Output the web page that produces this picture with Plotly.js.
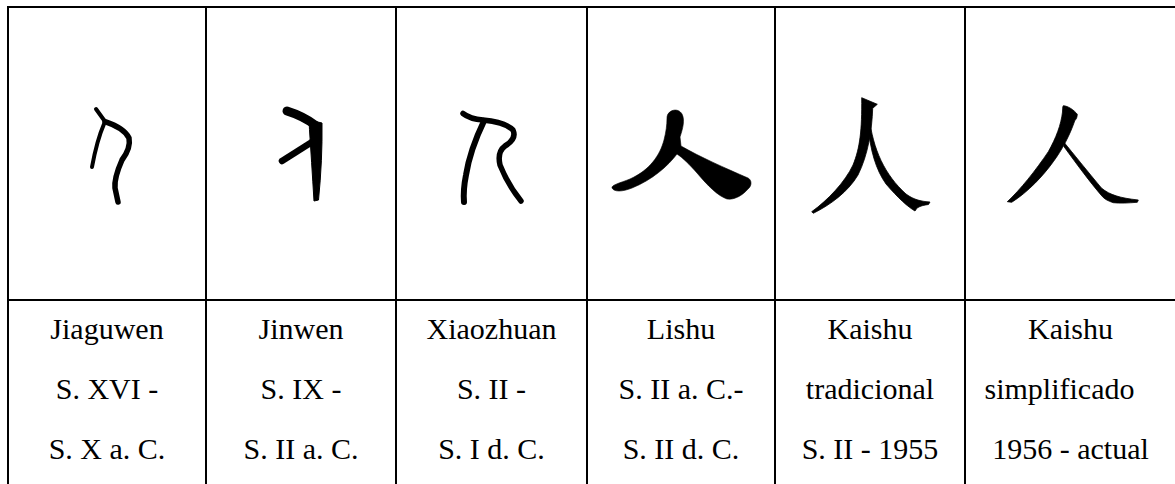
<!DOCTYPE html>
<html>
<head>
<meta charset="utf-8">
<script src="https://cdn.plot.ly/plotly-3.0.1.min.js"></script>
<style>
  html, body { margin: 0; padding: 0; background: #ffffff; }
  #chart { width: 1175px; height: 484px; }
</style>
</head>
<body>
<div id="chart"></div>
<script>
// ---- Data (table content) ----
const scriptNames = ['Jiaguwen', 'Jinwen', 'Xiaozhuan', 'Lishu', 'Kaishu', 'Kaishu'];
const periodLine1 = ['S. XVI -', 'S. IX -', 'S. II -', 'S. II a. C.-', 'tradicional', 'simplificado'];
const periodLine2 = ['S. X a. C.', 'S. II a. C.', 'S. I d. C.', 'S. II d. C.', 'S. II - 1955', '1956 - actual'];

// ---- Layout constants (pixels of the 1175x484 page) ----
const W = 1175, H = 484;
const colEdges = [8, 206, 396, 587, 775, 965, 1176];
const tableTop = 7;
const rowSplit = 300;
const lineY = [331.5, 391.5, 451.5];
// per-column horizontal nudges for individual text lines [line0, line1, line2]
const lineShift = [[0,0,0],[0,0,0],[0,0,0],[0,0,0],[0,0,0],[0,-11,0]];

// ---- Glyph artwork (the character 人 in each script), drawn in page pixel space ----
const glyphArt = [
  // Jiaguwen
  '<g fill="none" stroke="#000" stroke-linecap="round" stroke-linejoin="round">' +
  '<path d="M96,109 L105,121.5" stroke-width="4"/>' +
  '<path d="M105,121.7 Q124,128 129,138 Q131,148 122,160 Q114,178 115,188 L118,202" stroke-width="5.5"/>' +
  '<path d="M104,124 Q97,140 92,167" stroke-width="4"/></g>',
  // Jinwen
  '<g stroke="#000" stroke-linecap="round" stroke-linejoin="round">' +
  '<path fill="none" d="M287,111 Q303,116 315,125" stroke-width="9"/>' +
  '<path fill="#000" stroke-width="1" d="M309.5,120 L322,123 Q322.5,160 318.5,200 L314,201 Q311.5,160 309.5,130 Z"/>' +
  '<path fill="none" d="M282,161 L312,142" stroke-width="6.5"/></g>',
  // Xiaozhuan
  '<g fill="none" stroke="#000" stroke-linecap="round" stroke-linejoin="round">' +
  '<path d="M463,113.5 Q470,119 483,120 Q505,122 513,130 Q517,139 505,146 Q497,152 500,165 Q508,185 521,201" stroke-width="5.5"/>' +
  '<path d="M484,121 Q470,150 466,175 Q463,190 464,202" stroke-width="6"/></g>',
  // Lishu
  '<path fill="#000" stroke="#000" stroke-width="0.6" d="M667,118 C667,110 678,107 682,114 C685,120 683,128 680,137 ' +
  'L681,146 C700,157 725,168 748,178 C752,180 752,186 748,189 C742,196 734,200 727,199 ' +
  'C718,196 708,186 697,173 C690,165 683,158 677,154 C668,166 652,180 632,188 C622,192 614,192 612,188 ' +
  'C611,185 620,183 630,179 C650,170 660,155 664,140 C666,132 667,125 667,118 Z"/>',
  // Kaishu tradicional
  '<g fill="#000" stroke="#000" stroke-width="0.8" stroke-linejoin="round">' +
  '<path d="M861.7,97.7 L877.3,104.3 L872.7,108.3 C872,130 868,155 858,175 C848,192 830,205 813.3,213.3 ' +
  'L811.7,211.7 C828,200 845,182 853,165 C860,148 862,130 861.7,97.7 Z"/>' +
  '<path d="M869,116 C873,150 885,175 906,194 C914,200 922,201.5 930,202 L928.5,204.5 C925,205 921,205.5 917,208 ' +
  'L915,211 C908,207 898,198 886,184 C876,170 870,150 868,125 Z"/></g>',
  // Kaishu simplificado
  '<g fill="#000" stroke="#000" stroke-width="0.8" stroke-linejoin="round">' +
  '<path d="M1063.3,105.7 C1068,106 1074,110 1077.3,114.3 C1077,118 1076,120 1075,120 C1070,135 1062,150 1053.3,161.7 ' +
  'C1043,176 1028,192 1011.7,202.3 L1007.3,201.7 C1020,190 1036,170 1048.3,151.7 C1056,138 1061,125 1062.5,112 ' +
  'C1062.7,109 1062.5,107 1063.3,105.7 Z"/>' +
  '<path d="M1064,142.3 C1072,152 1088,172 1101.7,188.3 C1110,195 1120,198 1138.3,200 L1137.3,202.3 ' +
  'C1128,203 1120,203.5 1113.3,202.7 C1108,201 1104,199 1101,195 C1090,182 1078,166 1064,146.7 Z"/></g>'
];

function glyphImage(i) {
  const x0 = colEdges[i], w = colEdges[i + 1] - colEdges[i];
  const h = rowSplit - tableTop;
  const svg = '<svg xmlns="http://www.w3.org/2000/svg" width="' + w + '" height="' + h +
    '" viewBox="' + x0 + ' ' + tableTop + ' ' + w + ' ' + h + '" preserveAspectRatio="none">' +
    glyphArt[i] + '</svg>';
  return {
    source: 'data:image/svg+xml;charset=utf-8,' + encodeURIComponent(svg),
    xref: 'x', yref: 'y', x: x0, y: tableTop, sizex: w, sizey: h,
    xanchor: 'left', yanchor: 'top', sizing: 'stretch', layer: 'above'
  };
}

// ---- Text trace ----
const tx = [], ty = [], tt = [];
const lines = [scriptNames, periodLine1, periodLine2];
for (let c = 0; c < scriptNames.length; c++) {
  const cx = (colEdges[c] + colEdges[c + 1]) / 2;
  for (let k = 0; k < lines.length; k++) {
    tx.push(cx + lineShift[c][k]);
    ty.push(lineY[k]);
    tt.push(lines[k][c]);
  }
}

const textTrace = {
  type: 'scatter', mode: 'text', x: tx, y: ty, text: tt,
  textposition: 'middle center',
  textfont: { family: 'Liberation Serif, Times New Roman, serif', size: 30, color: '#000000' },
  hoverinfo: 'skip', showlegend: false, cliponaxis: false
};

// ---- Grid lines ----
const lineStyle = { color: '#000000', width: 2 };
const shapes = [];
shapes.push({ type: 'line', xref: 'x', yref: 'y', x0: colEdges[0] - 1, x1: W, y0: tableTop, y1: tableTop, line: lineStyle });
shapes.push({ type: 'line', xref: 'x', yref: 'y', x0: colEdges[0] - 1, x1: W, y0: rowSplit, y1: rowSplit, line: lineStyle });
for (let c = 0; c < colEdges.length - 1; c++) {
  shapes.push({ type: 'line', xref: 'x', yref: 'y', x0: colEdges[c], x1: colEdges[c], y0: tableTop - 1, y1: H, line: lineStyle });
}

const layout = {
  width: W, height: H, autosize: false,
  margin: { l: 0, r: 0, t: 0, b: 0, pad: 0 },
  paper_bgcolor: '#ffffff', plot_bgcolor: '#ffffff',
  showlegend: false,
  font: { family: 'Liberation Serif, Times New Roman, serif' },
  xaxis: { range: [0, W], visible: false, fixedrange: true, showgrid: false, zeroline: false },
  yaxis: { range: [H, 0], visible: false, fixedrange: true, showgrid: false, zeroline: false },
  shapes: shapes,
  images: scriptNames.map((_, i) => glyphImage(i))
};

Plotly.newPlot('chart', [textTrace], layout, { displayModeBar: false, staticPlot: true });
</script>
</body>
</html>
